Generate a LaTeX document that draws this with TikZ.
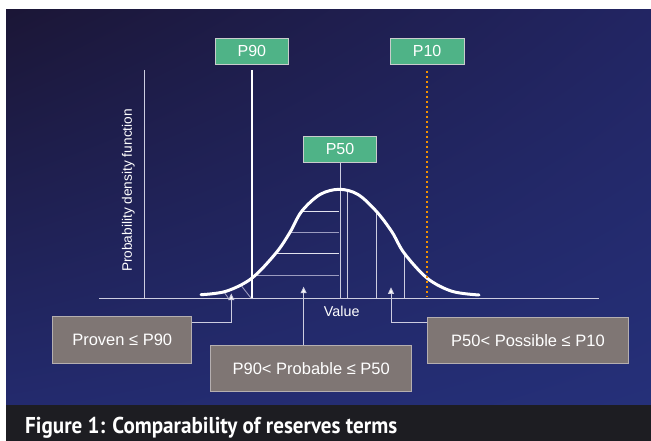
\documentclass[tikz,border=0pt]{standalone}
\usepackage{fontspec}
\usepackage{graphicx}
\setmainfont{Liberation Sans}
\newfontfamily\capfont{PT Sans}
\usetikzlibrary{arrows.meta,shadings}

\definecolor{bgUL}{HTML}{1B1636}
\definecolor{bgUR}{HTML}{222563}
\definecolor{bgLL}{HTML}{232A6D}
\definecolor{bgLR}{HTML}{253079}
\definecolor{capbar}{HTML}{1D1D22}
\definecolor{pgreen}{HTML}{4FB387}
\definecolor{pgreenedge}{HTML}{C9CCCC}
\definecolor{rgray}{HTML}{7F7674}
\definecolor{rgrayedge}{HTML}{B5AFB0}
\definecolor{thinln}{HTML}{CDCDE0}
\definecolor{hatchA}{HTML}{E2E2EE}
\definecolor{hatchB}{HTML}{9C9CC0}
\definecolor{pten}{HTML}{F39200}

\tikzset{
  pbox/.style={draw=pgreenedge, line width=0.9pt, fill=pgreen, text=white,
    minimum width=73.7pt, minimum height=26pt, inner sep=0pt,
    font=\fontsize{16}{18}\selectfont},
  rbox/.style={draw=rgrayedge, line width=0.9pt, fill=rgray, text=white,
    minimum height=46.3pt, inner sep=0pt,
    font=\fontsize{16.5}{19}\selectfont},
  thinline/.style={draw=thinln, line width=0.9pt},
  hatchline/.style={line width=0.9pt},
  pdfcurve/.style={draw=white, line width=3pt, line cap=round},
  marker/.style={draw=white, line width=2.5pt},
  dotline/.style={draw=pten, line width=2.2pt, dash pattern=on 2pt off 3pt},
  upconn/.style={draw=thinln, line width=0.9pt,
    -{Triangle[width=6pt,length=6.5pt,fill=white]}},
  axlabel/.style={text=white, inner sep=0pt},
}

\begin{document}
\begin{tikzpicture}[x=1pt,y=-1pt]
\useasboundingbox (0,0) rectangle (651,441);
\fill[white] (0,0) rectangle (651,441);

% background panel and caption bar
\shade[upper left=bgUL, upper right=bgUR, lower left=bgLL, lower right=bgLR]
  (6,10) rectangle (651,405);
\fill[capbar] (6,405) rectangle (651,441);
\node[anchor=base west, text=white, inner sep=0pt] (caption) at (25,433.3)
  {\resizebox{372pt}{\height}{\capfont\bfseries\fontsize{22.9}{26}\selectfont Figure 1: Comparability of reserves terms}};

% axes
\coordinate (xl) at (99,298);
\coordinate (xr) at (599.3,298);
\coordinate (ytop) at (144.3,70);
\draw[thinline] (xl) -- (xr);
\draw[thinline] (ytop) -- (ytop |- xl);
\node[axlabel, rotate=90, font=\fontsize{13.7}{16}\selectfont] (ylab) at (128.3,190.5)
  {Probability density function};
\node[axlabel, font=\fontsize{14.3}{16}\selectfont] (vlab) at (341.7,311) {Value};

% percentile markers
\node[pbox] (p90) at (251.85,51.3) {P90};
\node[pbox] (p10) at (427.15,51.3) {P10};
\node[pbox] (p50) at (340,149.3) {P50};

% hatching under the curve
\draw[hatchline, draw=hatchA] (301.7,211.3) -- (339.3,211.3);
\draw[hatchline, draw=hatchB] (290,232.3) -- (339.3,232.3);
\draw[hatchline, draw=hatchA] (276,253) -- (339.3,253);
\draw[hatchline, draw=hatchB] (256,275) -- (339.3,275);
\draw[thinline] (347,190.5) -- (347,298);
\draw[thinline] (376.7,211.7) -- (376.7,298);
\draw[thinline] (404.3,253.3) -- (404.3,298);
\draw[hatchline, draw=hatchB] (224.3,292.5) -- (228.3,298);
\draw[hatchline, draw=hatchB] (241.7,286.2) -- (250.7,297.7);

% P50 line
\draw[thinline] (p50.south) -- (p50.south |- xl);

% density curve
\draw[pdfcurve] plot[smooth, tension=0.55] coordinates {
  (201,294.7) (226,291.3) (251.7,278.3) (276,253) (290,232.3) (301.7,211.3)
  (320,194.5) (339.3,189.3) (358,194.5) (376.7,211.7) (392,232)
  (404.3,253.3) (427.3,278.3) (452,291.3) (479,295)};

% P90 and P10 lines
\draw[marker] ([yshift=-5.7pt]p90.south) -- (p90.south |- xl);
\draw[dotline] ([yshift=-6pt]p10.south) -- ([yshift=2pt]p10.south |- xl);

% reserve category boxes
\node[rbox, minimum width=139pt] (proven) at (122.2,339.85) {Proven ≤ P90};
\node[rbox, minimum width=201pt, minimum height=46.7pt] (probable) at (311.2,368.35) {P90< Probable ≤ P50};
\node[rbox, minimum width=200.6pt, minimum height=45.7pt] (possible) at (528,340.15) {P50< Possible ≤ P10};

% connectors to the regions
\coordinate (tipA) at (231.3,293.5);
\coordinate (tipB) at (303.6,286.7);
\coordinate (tipC) at (391,287.3);
\draw[upconn] ([yshift=-6pt]proven.north east) -| (tipA);
\draw[upconn] (probable.north -| tipB) -- (tipB);
\draw[upconn] ([yshift=-5.4pt]possible.north west) -| (tipC);
\end{tikzpicture}
\end{document}
